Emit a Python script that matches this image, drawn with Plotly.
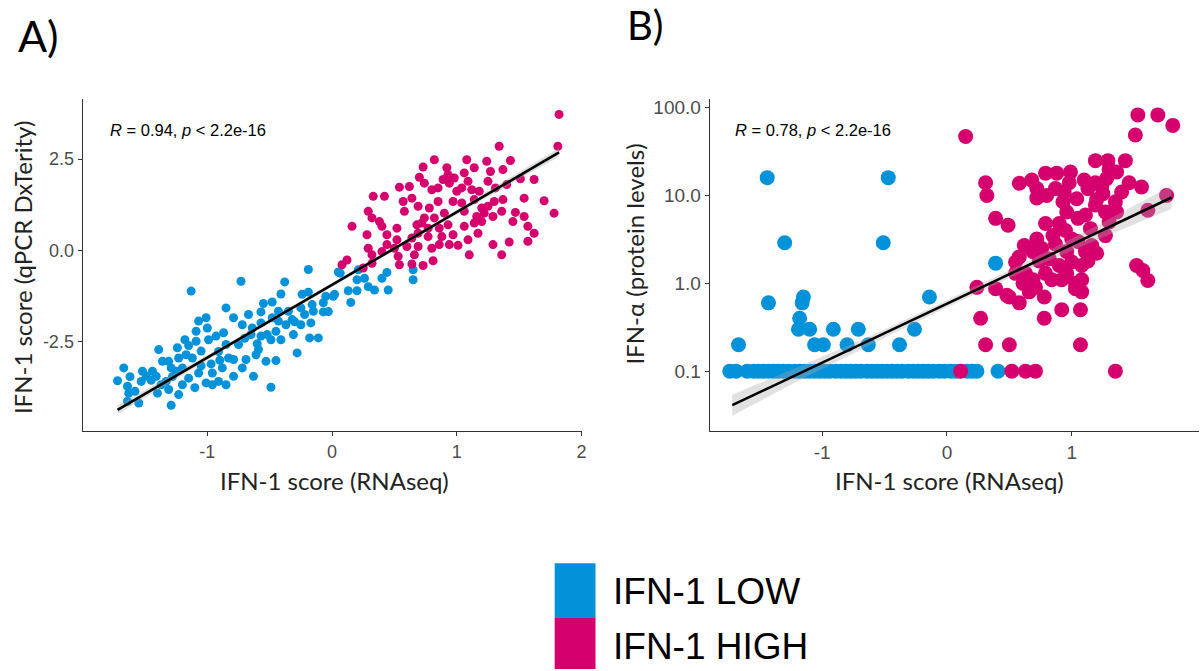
import plotly.graph_objects as go

# ---------------- Panel A data (IFN-1 RNAseq vs qPCR DxTerity) ----------------
a_low_x = [-0.19, -0.73, -1.13, -0.38, -0.41, -0.48, -0.57, -0.55, -0.43, -0.19, -0.05, 0.05, 0.01, -0.07,
           -0.15, -0.25, -0.32, -0.17, -0.11, -0.28, -0.45, -0.45, -0.49, -0.37, -0.41, -0.49, -0.57, -0.64,
           -0.72, -0.79, -0.85, -0.67, -0.65, -0.61, -0.69, -0.63, -0.72, -0.75, -0.83, -0.91, -0.88, -0.85,
           -0.93, -0.99, -1.00, -1.07, -1.01, -1.18, -1.09, -0.96, -0.96, -1.01, -1.07, -1.12, -1.17, -1.23,
           -1.24, -1.39, -1.36, -1.29, -1.20, -1.15, -1.20, -1.23, -1.31, -1.37, -1.44, -1.52, -1.49, -1.53,
           -1.64, -1.72, -1.67, -1.63, -1.64, -1.55, -1.29, -1.33, -1.41, -1.09, -0.91, -0.85, -0.79, -0.79,
           -0.53, -0.59, -0.31, -0.25, -0.18, -0.57, -0.43, -0.35, -0.24, -0.16, -0.07, 0.02, -0.48, -1.31,
           0.065, 0.21, 0.20, 0.26, 0.29, 0.34, 0.13, 0.20, 0.15, 0.40, 0.44, 0.45, 0.65, 0.65, -0.03,
           -1.05, -0.97, -1.05, -0.90, -1.45, -1.28, -1.10, -0.70, -0.60, -0.52, -0.30, -0.22, -0.87, -1.15,
           -1.25, -1.40, -1.58, -1.62]
a_low_y = [-0.52, -0.84, -1.11, -0.86, -1.19, -1.41, -1.68, -1.45, -1.66, -1.14, -1.25, -0.59, -1.25, -1.68,
           -1.66, -1.57, -1.89, -1.98, -2.39, -2.80, -2.21, -3.01, -3.74, -2.03, -2.44, -2.44, -2.34, -2.12,
           -2.03, -1.84, -1.57, -1.75, -2.30, -2.85, -2.98, -3.44, -3.21, -2.57, -2.94, -2.76, -3.21, -2.57,
           -2.34, -2.44, -2.12, -1.93, -1.84, -2.44, -2.48, -3.35, -3.67, -3.62, -3.35, -2.94, -2.85, -2.94,
           -2.66, -2.71, -3.03, -3.21, -3.21, -3.49, -3.67, -3.94, -3.80, -3.67, -3.30, -3.30, -3.44, -3.58,
           -3.71, -3.56, -3.21, -3.90, -4.12, -4.17, -4.23, -3.58, -3.44, -2.21, -3.58, -3.67, -3.44, -2.98,
           -3.03, -2.71, -2.30, -2.03, -2.39, -1.98, -1.93, -1.66, -1.20, -1.48, -1.43, -1.20, -1.84, -3.03,
           -0.62, -0.53, -0.80, -0.76, -0.99, -1.08, -1.10, -1.10, -1.42, -0.76, -0.60, -1.08, -0.53, -0.80, -1.67,
           -2.75, -3.10, -3.15, -3.00, -3.55, -3.45, -3.75, -2.40, -2.55, -2.30, -1.95, -1.75, -2.25, -2.60,
           -3.30, -3.90, -3.85, -3.45]

a_high_x = [1.82, 1.81, 1.34, 0.82, 1.08, 1.43, 1.24, 0.73, 0.92, 1.14, 1.27, 1.37, 0.70, 0.98, 1.06,
            0.89, 0.94, 1.09, 1.25, 1.51, 1.62, 0.74, 0.54, 0.62, 0.80, 0.85, 1.04, 1.12, 1.31, 1.40,
            0.33, 0.42, 0.57, 0.64, 0.69, 0.78, 0.85, 0.97, 1.04, 1.14, 1.30, 1.37, 1.54, 1.70, 0.58,
            0.29, 0.32, 0.38, 0.74, 0.82, 0.90, 1.06, 1.16, 1.22, 1.29, 1.36, 1.47, 1.54, 1.78, 0.16,
            0.40, 0.52, 0.68, 0.77, 0.86, 0.93, 1.06, 1.14, 1.20, 1.57, 0.28, 0.44, 0.52, 0.69, 0.77,
            0.88, 0.97, 1.09, 1.17, 1.62, 0.29, 0.44, 0.53, 0.60, 0.69, 0.80, 0.86, 0.94, 1.01, 1.29,
            1.42, 1.57, 0.32, 0.40, 0.66, 1.10, 1.36, 0.81, 0.73, 0.64, 0.54, 0.32, 0.25, 0.12, 0.08,
            0.50, 0.64, 0.72, 1.00, 0.93, 1.18, 1.25, 1.20, 1.45]
a_high_y = [3.72, 2.85, 2.85, 2.48, 2.48, 2.46, 2.44, 2.28, 2.26, 2.26, 2.16, 2.21, 2.00, 1.98, 2.12,
            1.94, 1.84, 1.89, 1.89, 1.96, 1.94, 1.84, 1.73, 1.75, 1.66, 1.71, 1.71, 1.66, 1.71, 1.80,
            1.48, 1.48, 1.34, 1.43, 1.21, 1.16, 1.34, 1.34, 1.30, 1.39, 1.34, 1.39, 1.43, 1.36, 1.07,
            1.07, 0.89, 0.79, 0.89, 0.89, 1.02, 1.07, 0.93, 1.02, 0.93, 1.07, 1.04, 0.93, 1.02, 0.66,
            0.66, 0.61, 0.70, 0.61, 0.61, 0.70, 0.66, 0.75, 0.79, 0.66, 0.43, 0.43, 0.29, 0.47, 0.38,
            0.38, 0.43, 0.29, 0.47, 0.47, 0.06, 0.16, -0.16, 0.11, 0.11, 0.06, 0.16, 0.16, 0.14, 0.16,
            0.23, 0.25, -0.12, -0.03, -0.12, -0.12, -0.12, -0.28, -0.41, -0.37, -0.39, -0.35, -0.48, -0.26, -0.39,
            0.06, 0.34, 0.75, 1.62, 2.07, 1.62, 1.21, 1.16, 0.79]

# regression line + confidence band
a_fit_x = [-1.72, 1.82]
a_fit_y = [-4.36, 2.68]
a_band_x = [-1.72, -0.8, 0.0, 0.9, 1.82]
a_band_lo = [-4.48, -2.59, -0.99, 0.79, 2.56]
a_band_hi = [-4.24, -2.47, -0.89, 0.91, 2.80]

# ---------------- Panel B data (IFN-1 RNAseq vs IFN-alpha protein) ----------------
b_low_x = [-1.44, -1.30, -1.43, -1.67, -1.15, -1.16, -1.18, -1.19, -1.10, -1.06, -0.99, -0.91, -0.80,
           -0.71, -0.63, -0.38, -0.26, -0.14, -0.47, -0.51, 0.39,
           -1.74, -1.69, -1.60, -1.55, -1.51, -1.47, -1.43, -1.39, -1.35, -1.31, -1.27, -1.22, -1.18,
           -1.14, -1.10, -1.06, -1.02, -0.98, -0.94, -0.89, -0.85, -0.81, -0.77, -0.73, -0.69, -0.64,
           -0.60, -0.56, -0.52, -0.48, -0.44, -0.40, -0.36, -0.31, -0.27, -0.23, -0.19, -0.15, -0.11,
           -0.06, -0.02, 0.03, 0.07, 0.16, 0.20, 0.24, 0.41]
b_low_y = [16, 2.9, 0.6, 0.2, 0.7, 0.6, 0.4, 0.3, 0.3, 0.2, 0.2, 0.3, 0.2,
           0.3, 0.2, 0.2, 0.3, 0.7, 16, 2.9, 1.7,
           0.1, 0.1, 0.1, 0.1, 0.1, 0.1, 0.1, 0.1, 0.1, 0.1, 0.1, 0.1, 0.1,
           0.1, 0.1, 0.1, 0.1, 0.1, 0.1, 0.1, 0.1, 0.1, 0.1, 0.1, 0.1, 0.1,
           0.1, 0.1, 0.1, 0.1, 0.1, 0.1, 0.1, 0.1, 0.1, 0.1, 0.1, 0.1, 0.1,
           0.1, 0.1, 0.1, 0.1, 0.1, 0.1, 0.1, 0.1]

b_high_x = [0.11, 0.52, 0.63, 0.71, 1.35, 0.31, 0.50, 1.07, 0.27, 0.78, 0.92, 1.07, 0.24, 0.39, 0.50,
            0.58, 0.66, 0.78, 0.61, 0.69, 0.55, 0.62, 0.69, 0.76, 0.82, 0.87, 0.92, 0.96, 1.00, 1.03,
            1.08, 1.08, 1.11, 1.16, 1.27, 1.13, 1.00, 0.79, 0.71, 0.63, 0.84, 0.96, 1.52, 1.57, 1.61,
            1.61, 1.76, 0.39, 0.49, 0.79, 0.90, 0.31, 0.32, 0.58, 0.72, 0.72, 0.79, 0.88, 0.99, 0.87,
            0.94, 0.93, 0.96, 1.04, 1.13, 1.19, 1.24, 1.28, 1.19, 1.29, 1.43, 1.36, 1.46, 1.56, 1.35,
            1.19, 1.11, 1.27, 1.36, 1.51, 1.53, 1.69, 1.81, 0.15, 0.72, 0.55, 0.48, 1.03, 1.08,
            0.85, 0.95, 1.05, 1.15, 1.20, 1.10, 1.25, 0.98, 0.80, 0.68, 1.30, 1.40, 0.90, 1.20, 0.74,
            0.58, 1.05, 1.30]
b_high_y = [0.1, 0.1, 0.1, 0.1, 0.1, 0.2, 0.2, 0.2, 0.4, 0.4, 0.5, 0.5, 0.9, 0.87, 0.7,
            0.6, 0.8, 0.7, 1.0, 1.1, 1.75, 2.7, 2.3, 2.5, 1.9, 2.8, 1.1, 2.3, 3.2, 0.87,
            1.1, 1.6, 2.3, 2.7, 3.5, 1.8, 1.75, 1.3, 0.9, 1.3, 1.1, 1.3, 1.6, 1.4, 1.08,
            6.8, 10, 5.5, 4.6, 4.8, 4.8, 14, 10, 13.8, 12, 9.4, 18, 18, 18.5, 12,
            11, 8.5, 6.5, 9.2, 12, 14, 12.5, 15.6, 25, 25, 25, 18.6, 14, 12.5, 8.5,
            7.8, 6, 6.5, 6.5, 49, 83, 83, 63, 47, 3.2, 1.3, 0.73, 1.0, 0.8,
            3.5, 4.0, 3.0, 4.2, 9.0, 15, 10.5, 14, 10, 15, 20, 11, 1.6, 2.2, 1.8,
            2.0, 5.5, 5.0]

b_fit_x = [-1.72, 1.80]
b_fit_y = [0.041, 9.5]
b_band_x = [-1.72, -1.2, -0.6, 0.0, 0.6, 1.2, 1.80]
b_band_lo = [0.031, 0.076, 0.204, 0.533, 1.34, 3.12, 7.08]
b_band_hi = [0.054, 0.110, 0.257, 0.640, 1.65, 4.53, 12.9]

groups = ["IFN-1 LOW", "IFN-1 HIGH"]
BLUE = "#0192da"
PINK = "#d5006e"

fig = go.Figure()

# Panel A
fig.add_trace(go.Scatter(x=a_low_x, y=a_low_y, mode="markers", xaxis="x", yaxis="y",
                         marker=dict(color=BLUE, size=9, line=dict(width=0)), showlegend=False))
fig.add_trace(go.Scatter(x=a_high_x, y=a_high_y, mode="markers", xaxis="x", yaxis="y",
                         marker=dict(color=PINK, size=9, line=dict(width=0)), showlegend=False))
fig.add_trace(go.Scatter(x=a_band_x + a_band_x[::-1], y=a_band_hi + a_band_lo[::-1], xaxis="x", yaxis="y",
                         fill="toself", fillcolor="rgba(160,160,160,0.35)", line=dict(width=0),
                         mode="lines", showlegend=False, hoverinfo="skip"))
fig.add_trace(go.Scatter(x=a_fit_x, y=a_fit_y, mode="lines", xaxis="x", yaxis="y",
                         line=dict(color="black", width=2.6), showlegend=False))

# Panel B
fig.add_trace(go.Scatter(x=b_low_x, y=b_low_y, mode="markers", xaxis="x2", yaxis="y2",
                         marker=dict(color=BLUE, size=15, line=dict(width=0)), showlegend=False))
fig.add_trace(go.Scatter(x=b_high_x, y=b_high_y, mode="markers", xaxis="x2", yaxis="y2",
                         marker=dict(color=PINK, size=15, line=dict(width=0)), showlegend=False))
fig.add_trace(go.Scatter(x=b_band_x + b_band_x[::-1], y=b_band_hi + b_band_lo[::-1], xaxis="x2", yaxis="y2",
                         fill="toself", fillcolor="rgba(170,170,170,0.35)", line=dict(width=0),
                         mode="lines", showlegend=False, hoverinfo="skip"))
fig.add_trace(go.Scatter(x=b_fit_x, y=b_fit_y, mode="lines", xaxis="x2", yaxis="y2",
                         line=dict(color="black", width=2.6), showlegend=False))

def axis_style(size):
    return dict(showline=True, linecolor="#333333", linewidth=1.2, ticks="outside", ticklen=4,
                tickcolor="#333333", tickwidth=1.1, showgrid=False, zeroline=False,
                tickfont=dict(family="Liberation Sans, Arial, sans-serif", size=size, color="#4d4d4d"))

fig.update_layout(
    width=1204, height=671, margin=dict(l=0, r=0, t=0, b=0),
    paper_bgcolor="white", plot_bgcolor="white",
    xaxis=dict(domain=[0.0689, 0.485], range=[-2.0, 2.0], tickvals=[-1, 0, 1, 2],
               ticktext=["-1", "0", "1", "2"], anchor="y", **axis_style(18)),
    yaxis=dict(domain=[0.359, 0.855], range=[-4.93, 4.14], tickvals=[-2.5, 0, 2.5],
               ticktext=["-2.5", "0.0", "2.5"], anchor="x", **axis_style(18)),
    xaxis2=dict(domain=[0.592, 1.0], range=[-1.90, 2.02], tickvals=[-1, 0, 1],
                ticktext=["-1", "0", "1"], anchor="y2", **axis_style(19)),
    yaxis2=dict(domain=[0.359, 0.855], type="log", range=[-1.68, 2.10], tickvals=[0.1, 1, 10, 100],
                ticktext=["0.1", "1.0", "10.0", "100.0"], anchor="x2", **axis_style(19)),
)

title_font = dict(family="Lato, Open Sans, sans-serif", size=24, color="#222222")
ann = [
    dict(text="A)", x=16 / 1204, y=1 - 34 / 671, xanchor="left", yanchor="middle",
         font=dict(family="Lato, sans-serif", size=43, color="black")),
    dict(text="B)", x=628 / 1204, y=1 - 23 / 671, xanchor="left", yanchor="middle",
         font=dict(family="Lato, sans-serif", size=40, color="black")),
    dict(text="<i>R</i> = 0.94, <i>p</i> &lt; 2.2e-16", x=108 / 1204, y=1 - 128 / 671,
         xanchor="left", yanchor="middle",
         font=dict(family="Liberation Sans, Arial, sans-serif", size=16.5, color="black")),
    dict(text="<i>R</i> = 0.78, <i>p</i> &lt; 2.2e-16", x=736 / 1204, y=1 - 128 / 671,
         xanchor="left", yanchor="middle",
         font=dict(family="Liberation Sans, Arial, sans-serif", size=16.5, color="black")),
    dict(text="IFN-1 score (RNAseq)", x=336 / 1204, y=1 - 480 / 671, xanchor="center", yanchor="middle",
         font=title_font),
    dict(text="IFN-1 score (RNAseq)", x=953 / 1204, y=1 - 480 / 671, xanchor="center", yanchor="middle",
         font=title_font),
    dict(text="IFN-1 score (qPCR DxTerity)", x=22 / 1204, y=1 - 266 / 671, xanchor="center",
         yanchor="middle", textangle=-90, font=title_font),
    dict(text="IFN-α (protein levels)", x=637 / 1204, y=1 - 253 / 671, xanchor="center",
         yanchor="middle", textangle=-90, font=title_font),
    dict(text=groups[0], x=614 / 1204, y=1 - 591 / 671, xanchor="left", yanchor="middle",
         font=dict(family="Liberation Sans, Arial, sans-serif", size=37, color="black")),
    dict(text=groups[1], x=614 / 1204, y=1 - 646 / 671, xanchor="left", yanchor="middle",
         font=dict(family="Liberation Sans, Arial, sans-serif", size=37, color="black")),
]
for a in ann:
    a.update(xref="paper", yref="paper", showarrow=False)
fig.update_layout(annotations=ann)

fig.update_layout(shapes=[
    dict(type="rect", xref="paper", yref="paper", x0=557 / 1204, x1=598 / 1204,
         y0=1 - 617 / 671, y1=1 - 563 / 671, fillcolor=BLUE, line=dict(width=0)),
    dict(type="rect", xref="paper", yref="paper", x0=557 / 1204, x1=598 / 1204,
         y0=1 - 669 / 671, y1=1 - 617 / 671, fillcolor=PINK, line=dict(width=0)),
])

fig.write_html("out.html", config={"displayModeBar": False},
               post_script="document.body.style.margin='0px';document.body.style.overflow='hidden';")
